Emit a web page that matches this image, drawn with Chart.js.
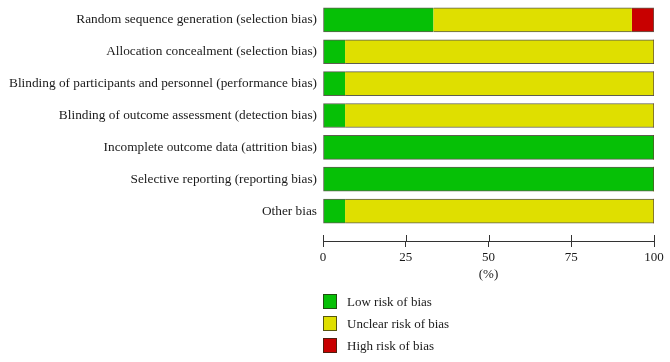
<!DOCTYPE html>
<html><head><meta charset="utf-8">
<script src="https://cdn.jsdelivr.net/npm/chart.js@4/dist/chart.umd.min.js"></script>
<style>
html,body{margin:0;padding:0;background:#fff;}
#wrap{position:relative;width:670px;height:362px;overflow:hidden;}
#legend{position:absolute;left:323px;top:294px;font-family:'Liberation Serif',serif;font-size:13px;color:#1a1a1a;}
.item{display:flex;align-items:center;height:15px;margin-bottom:7px;white-space:nowrap;}
.box{box-sizing:border-box;width:14px;height:15px;border:1px solid rgba(40,40,20,0.75);margin-right:10px;}
</style></head>
<body><div id="wrap"><canvas id="c" width="670" height="362"></canvas><div id="legend"></div></div>
<script>
const categories = [
  'Random sequence generation (selection bias)',
  'Allocation concealment (selection bias)',
  'Blinding of participants and personnel (performance bias)',
  'Blinding of outcome assessment (detection bias)',
  'Incomplete outcome data (attrition bias)',
  'Selective reporting (reporting bias)',
  'Other bias'
];
const lowRisk     = [33.33, 6.67, 6.67, 6.67, 100, 100, 6.67];
const unclearRisk = [60, 93.33, 93.33, 93.33, 0, 0, 93.33];
const highRisk    = [6.67, 0, 0, 0, 0, 0, 0];
const seriesNames = ['Low risk of bias', 'Unclear risk of bias', 'High risk of bias'];
const seriesColors = ['#06c006', '#dfdf00', '#c80000'];
const xTicks = [0, 25, 50, 75, 100];
const xTitle = '(%)';

const series = [lowRisk, unclearRisk, highRisk];
const FONT = "'Liberation Serif', 'Times New Roman', serif";
const EDGE = 'rgba(40,40,20,0.75)';

function borderFor(dsIndex) {
  return ctx => {
    const i = ctx.dataIndex;
    const vals = series.map(s => s[i]);
    if (vals[dsIndex] <= 0) return 0;
    let first = -1, last = -1;
    vals.forEach((v, k) => { if (v > 0) { if (first < 0) first = k; last = k; } });
    return {top: 1, bottom: 1, left: dsIndex === first ? 1 : 0, right: dsIndex === last ? 1 : 0};
  };
}

const datasets = series.map((vals, d) => ({
  label: seriesNames[d],
  data: vals.map((v, i) => ({x: v, y: i})),
  backgroundColor: seriesColors[d],
  borderColor: EDGE,
  borderWidth: borderFor(d),
  borderSkipped: false,
  barThickness: 24,
  stack: 's'
}));

const tickUp = {
  id: 'tickUp',
  afterDraw(chart) {
    const xs = chart.scales.x, c = chart.ctx;
    c.save();
    c.strokeStyle = '#333'; c.lineWidth = 1;
    xs.ticks.forEach(t => {
      const px = Math.round(xs.getPixelForValue(t.value)) + 0.5;
      c.beginPath(); c.moveTo(px, xs.top - 6); c.lineTo(px, xs.top); c.stroke();
    });
    c.restore();
  }
};

const htmlLegend = {
  id: 'htmlLegend',
  afterUpdate(chart) {
    const el = document.getElementById('legend');
    el.innerHTML = '';
    chart.data.datasets.forEach(ds => {
      const it = document.createElement('div'); it.className = 'item';
      const b = document.createElement('span'); b.className = 'box'; b.style.background = ds.backgroundColor;
      const t = document.createElement('span'); t.textContent = ds.label;
      it.appendChild(b); it.appendChild(t); el.appendChild(it);
    });
  }
};

new Chart(document.getElementById('c'), {
  type: 'bar',
  data: {datasets},
  plugins: [tickUp, htmlLegend],
  options: {
    indexAxis: 'y',
    responsive: false,
    animation: false,
    layout: {padding: {top: 4, right: 16, left: 0, bottom: 0}},
    plugins: {legend: {display: false}, tooltip: {enabled: false}},
    scales: {
      y: {
        type: 'linear',
        reverse: true,
        stacked: true,
        offset: false,
        min: -0.5,
        max: 6.94,
        afterBuildTicks: s => { s.ticks = categories.map((_, i) => ({value: i})); },
        afterFit: s => { s.width = 323; s.paddingTop = 0; s.paddingBottom = 0; },
        grid: {display: false, drawTicks: false},
        border: {display: false},
        ticks: {
          autoSkip: false,
          padding: 6,
          color: '#1a1a1a',
          font: {family: FONT, size: 13.3},
          callback: v => categories[v]
        }
      },
      x: {
        type: 'linear',
        stacked: true,
        min: 0,
        max: 100,
        afterBuildTicks: s => { s.ticks = xTicks.map(v => ({value: v})); },
        afterFit: s => { s.height = 121; },
        grid: {drawOnChartArea: false, drawTicks: true, tickLength: 6, color: '#333'},
        border: {display: true, color: '#333'},
        ticks: {padding: 3, color: '#1a1a1a', font: {family: FONT, size: 13}},
        title: {display: true, text: xTitle, color: '#1a1a1a', font: {family: FONT, size: 13}, padding: {top: 1, bottom: 80}}
      }
    }
  }
});
</script>
</body></html>
